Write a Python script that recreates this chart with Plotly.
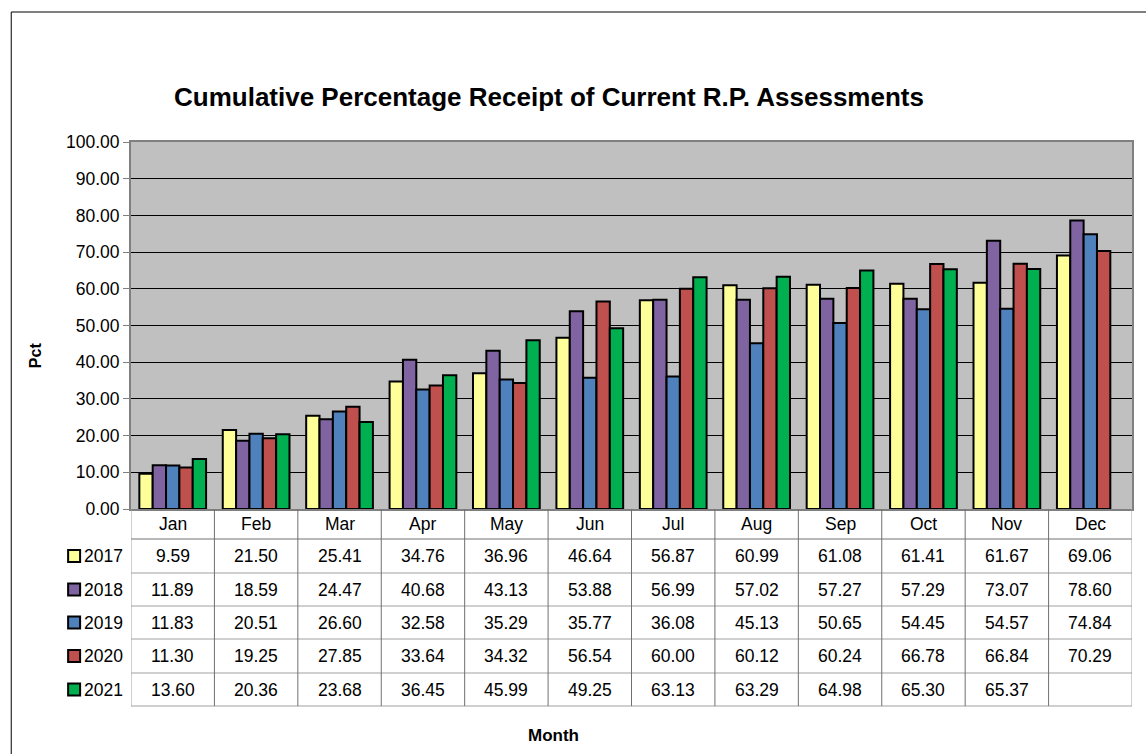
import plotly.graph_objects as go

months = ["Jan", "Feb", "Mar", "Apr", "May", "Jun", "Jul", "Aug", "Sep", "Oct", "Nov", "Dec"]
series_names = ["2017", "2018", "2019", "2020", "2021"]
v2017 = [9.59, 21.50, 25.41, 34.76, 36.96, 46.64, 56.87, 60.99, 61.08, 61.41, 61.67, 69.06]
v2018 = [11.89, 18.59, 24.47, 40.68, 43.13, 53.88, 56.99, 57.02, 57.27, 57.29, 73.07, 78.60]
v2019 = [11.83, 20.51, 26.60, 32.58, 35.29, 35.77, 36.08, 45.13, 50.65, 54.45, 54.57, 74.84]
v2020 = [11.30, 19.25, 27.85, 33.64, 34.32, 56.54, 60.00, 60.12, 60.24, 66.78, 66.84, 70.29]
v2021 = [13.60, 20.36, 23.68, 36.45, 45.99, 49.25, 63.13, 63.29, 64.98, 65.30, 65.37, None]
y_ticks = [0, 10, 20, 30, 40, 50, 60, 70, 80, 90, 100]

series_values = [v2017, v2018, v2019, v2020, v2021]
colors = ["#FFFF99", "#8064A2", "#4F81BD", "#C0504D", "#00B050"]

W, H = 1146, 754
PL, PR, PT, PB = 131, 1134, 142, 509
PW, PH = PR - PL, PB - PT
FONT = "Liberation Sans, Arial, sans-serif"
FS = 17.5

def fx(px):
    return (px - PL) / PW

def fy(py):
    return (PB - py) / PH

xpos = list(range(len(months)))
fig = go.Figure()
for name, vals, col in zip(series_names, series_values, colors):
    fig.add_trace(go.Bar(
        x=xpos, y=vals, name=name,
        marker=dict(color=col, line=dict(color="black", width=2)),
        showlegend=False,
    ))

shapes = []
annotations = []

header_top, header_bot = PB, 539
row_bounds = [539, 573, 606, 639, 673, 706]
table_left_px = 62
col_w = PW / len(months)
xleft_data = -0.5 - (PL - table_left_px) / col_w

hgrey = "#A0A0A0"
vgrey = "#707070"
shapes.append(dict(type="line", xref="x", yref="paper", x0=-0.5, x1=11.5,
                   y0=fy(header_bot), y1=fy(header_bot), line=dict(color=hgrey, width=1)))
for b in row_bounds:
    shapes.append(dict(type="line", xref="x", yref="paper", x0=xleft_data, x1=11.5,
                       y0=fy(b), y1=fy(b), line=dict(color=hgrey, width=1)))
for k in range(len(months) + 1):
    shapes.append(dict(type="line", xref="x", yref="paper", x0=-0.5 + k, x1=-0.5 + k,
                       y0=fy(header_top), y1=fy(row_bounds[-1]),
                       line=dict(color=vgrey if 0 < k < len(months) else hgrey, width=1)))
shapes.append(dict(type="line", xref="x", yref="paper", x0=xleft_data, x1=xleft_data,
                   y0=fy(row_bounds[0]), y1=fy(row_bounds[-1]), line=dict(color=hgrey, width=1)))

for i, m in enumerate(months):
    annotations.append(dict(x=i, y=fy((header_top + header_bot) / 2), xref="x", yref="paper",
                            text=m, showarrow=False, font=dict(family=FONT, size=FS, color="black"),
                            xanchor="center", yanchor="middle"))

for r, (name, vals, col) in enumerate(zip(series_names, series_values, colors)):
    ymid = (row_bounds[r] + row_bounds[r + 1]) / 2
    shapes.append(dict(type="rect", xref="paper", yref="paper",
                       x0=fx(68), x1=fx(80), y0=fy(ymid - 6), y1=fy(ymid + 6),
                       fillcolor=col, line=dict(color="black", width=2)))
    annotations.append(dict(x=fx(82), y=fy(ymid), xref="paper", yref="paper", text=name,
                            showarrow=False, font=dict(family=FONT, size=FS, color="black"),
                            xanchor="left", yanchor="middle"))
    for i, v in enumerate(vals):
        if v is None:
            continue
        annotations.append(dict(x=i, y=fy(ymid), xref="x", yref="paper", text=f"{v:.2f}",
                                showarrow=False, font=dict(family=FONT, size=FS, color="black"),
                                xanchor="center", yanchor="middle"))

shapes.append(dict(type="rect", xref="paper", yref="paper",
                   x0=fx(11), x1=fx(1160), y0=fy(12), y1=fy(770),
                   line=dict(color="black", width=1), fillcolor="rgba(0,0,0,0)", layer="below"))

annotations.append(dict(x=fx(550), y=fy(97), xref="paper", yref="paper",
                        text="<b>Cumulative Percentage Receipt of Current R.P. Assessments</b>",
                        showarrow=False, font=dict(family=FONT, size=26, color="black"),
                        xanchor="center", yanchor="middle"))
annotations.append(dict(x=fx(35), y=fy(355), xref="paper", yref="paper", text="<b>Pct</b>",
                        showarrow=False, textangle=-90, font=dict(family=FONT, size=16, color="black"),
                        xanchor="center", yanchor="middle"))
annotations.append(dict(x=fx(554), y=fy(735), xref="paper", yref="paper", text="<b>Month</b>",
                        showarrow=False, font=dict(family=FONT, size=17, color="black"),
                        xanchor="center", yanchor="middle"))

fig.update_layout(
    width=W, height=H,
    margin=dict(l=PL, r=W - PR, t=PT, b=H - PB, pad=0),
    paper_bgcolor="white", plot_bgcolor="#C0C0C0",
    barmode="group", bargap=0.2, bargroupgap=0,
    shapes=shapes, annotations=annotations,
    font=dict(family=FONT, size=FS, color="black"),
    xaxis=dict(range=[-0.5, 11.5], showticklabels=False, showgrid=False, zeroline=False,
               showline=True, linecolor="#808080", linewidth=2, mirror=True, fixedrange=True),
    yaxis=dict(range=[0, 100], tickvals=y_ticks, ticktext=[f"{t:.2f}" for t in y_ticks],
               showgrid=True, gridcolor="black", gridwidth=1, zeroline=False,
               ticks="outside", ticklen=6, tickcolor="#808080",
               showline=True, linecolor="#808080", linewidth=2, mirror=True,
               tickfont=dict(family=FONT, size=FS, color="black"), fixedrange=True),
)

fig.write_html("out.html", config={"displayModeBar": False},
               post_script="document.body.style.margin='0';")
